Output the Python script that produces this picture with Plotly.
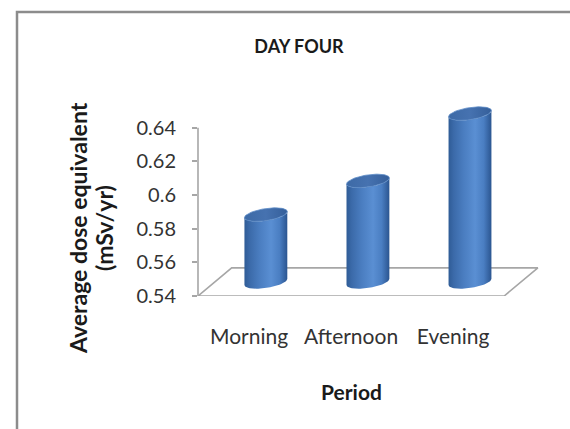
import numpy as np
import plotly.graph_objects as go

# Average dose equivalent per period of the day (mSv/yr)
categories = ["Morning", "Afternoon", "Evening"]
dose = [0.58, 0.60, 0.64]

y_ticks = [0.54, 0.56, 0.58, 0.60, 0.62, 0.64]
y_tick_text = ["0.54", "0.56", "0.58", "0.6", "0.62", "0.64"]

# pseudo-3D styling constants
Y_BASE = 0.54          # floor level
DEPTH_X = 0.33         # floor depth offset (category units)
DEPTH_Y = 0.0167       # floor depth offset (value units)
HALF_W = 0.21          # cylinder half width (category units)
ELL_B = 0.0036         # ellipse half height (value units)
TILT = 0.0085          # slight slant of the ellipses

FONT = "Lato"
AXIS_GREY = "#a6a6a6"

body_scale = [
    [0.00, "#2f5c96"],
    [0.12, "#3b6aa9"],
    [0.35, "#4a7dc0"],
    [0.62, "#5a8fd3"],
    [0.82, "#4a7ec2"],
    [1.00, "#2b5590"],
]
cap_scale = [
    [0.0, "#3d6aa6"],
    [0.5, "#4672b0"],
    [1.0, "#355f9a"],
]


def ellipse(cx, cy, t):
    dx = HALF_W * np.cos(t)
    return cx + dx, cy + ELL_B * np.sin(t) + TILT * dx


fig = go.Figure()

# floor of the 3D plot area
x_lo, x_hi = -0.5, len(categories) - 0.5
floor_x = [x_lo, x_hi, x_hi + DEPTH_X, x_lo + DEPTH_X, x_lo]
floor_y = [Y_BASE, Y_BASE, Y_BASE + DEPTH_Y, Y_BASE + DEPTH_Y, Y_BASE]
fig.add_trace(go.Scatter(
    x=floor_x, y=floor_y, mode="lines",
    line=dict(color=AXIS_GREY, width=1.6),
    hoverinfo="skip", showlegend=False,
))

# cylinders, set at mid depth of the floor
for i, (name, val) in enumerate(zip(categories, dose)):
    cx = i + DEPTH_X / 2
    base = Y_BASE + DEPTH_Y / 2
    top = val + DEPTH_Y / 2

    t_low = np.linspace(np.pi, 2 * np.pi, 40)
    bx, by = ellipse(cx, base, t_low)
    tx, ty = ellipse(cx, top, t_low[::-1])
    body_x = np.concatenate([bx, tx, bx[:1]])
    body_y = np.concatenate([by, ty, by[:1]])
    fig.add_trace(go.Scatter(
        x=body_x, y=body_y, mode="lines", fill="toself",
        line=dict(width=0, color="#2f5c96"),
        fillgradient=dict(type="horizontal", colorscale=body_scale),
        name=name, hovertemplate=f"{name}: {val}<extra></extra>",
        showlegend=False,
    ))

    t_all = np.linspace(0, 2 * np.pi, 80)
    cxs, cys = ellipse(cx, top, t_all)
    fig.add_trace(go.Scatter(
        x=cxs, y=cys, mode="lines", fill="toself",
        line=dict(width=0.8, color="#5d8bc6"),
        fillgradient=dict(type="horizontal", colorscale=cap_scale),
        hoverinfo="skip", showlegend=False,
    ))

# plot area in pixels: left 198, width 347, bottom 296, height 202
PX_L, PX_W, PX_B, PX_H = 198, 347, 296, 202


def px_x(x):
    return (x - PX_L) / PX_W


def px_y(y):
    return (PX_B - y) / PX_H


TITLE_FONT = dict(family=FONT, size=23, color="#1a1a1a")

fig.update_layout(
    width=570, height=429, autosize=False,
    margin=dict(l=198, r=25, t=94, b=133),
    paper_bgcolor="white", plot_bgcolor="white",
    font=dict(family=FONT, color="#333333"),
    title=dict(
        text="<b>DAY FOUR</b>", x=299 / 570, xref="container", xanchor="center",
        y=1 - 47 / 429, yref="container", yanchor="middle",
        font=dict(family=FONT, size=18, color="#1a1a1a"),
    ),
    xaxis=dict(
        range=[-0.5, 2.9], showgrid=False, zeroline=False, showline=False,
        tickvals=list(range(len(categories))), ticktext=categories,
        ticks="", ticklabelstandoff=26,
        tickfont=dict(family=FONT, size=21, color="#333333"),
        fixedrange=True,
    ),
    yaxis=dict(
        range=[0.54, 0.66], showgrid=False, zeroline=False, showline=False,
        tickvals=y_ticks, ticktext=y_tick_text,
        ticks="outside", ticklen=5, tickwidth=1.5, tickcolor=AXIS_GREY,
        ticklabelstandoff=12,
        tickfont=dict(family=FONT, size=20, color="#333333"),
        fixedrange=True,
    ),
    shapes=[
        # value axis line
        dict(type="line", xref="paper", yref="y", x0=0, x1=0,
             y0=y_ticks[0], y1=y_ticks[-1],
             line=dict(color=AXIS_GREY, width=1.6)),
        # chart frame
        dict(type="rect", xref="paper", yref="paper",
             x0=px_x(17), x1=px_x(580), y0=px_y(440), y1=px_y(12),
             line=dict(color="#8c8c8c", width=2.5), layer="below"),
    ],
    annotations=[
        dict(text="<b>Average dose equivalent</b>",
             xref="paper", yref="paper", x=px_x(78), y=px_y(228),
             xanchor="center", yanchor="middle", textangle=-90,
             showarrow=False, font=TITLE_FONT),
        dict(text="<b>(mSv/yr)</b>",
             xref="paper", yref="paper", x=px_x(104), y=px_y(228),
             xanchor="center", yanchor="middle", textangle=-90,
             showarrow=False, font=TITLE_FONT),
        dict(text="<b>Period</b>", xref="paper", yref="paper",
             x=px_x(351), y=px_y(391),
             xanchor="center", yanchor="middle",
             showarrow=False, font=dict(family=FONT, size=21, color="#1a1a1a")),
    ],
)

fig.write_html("out.html")
